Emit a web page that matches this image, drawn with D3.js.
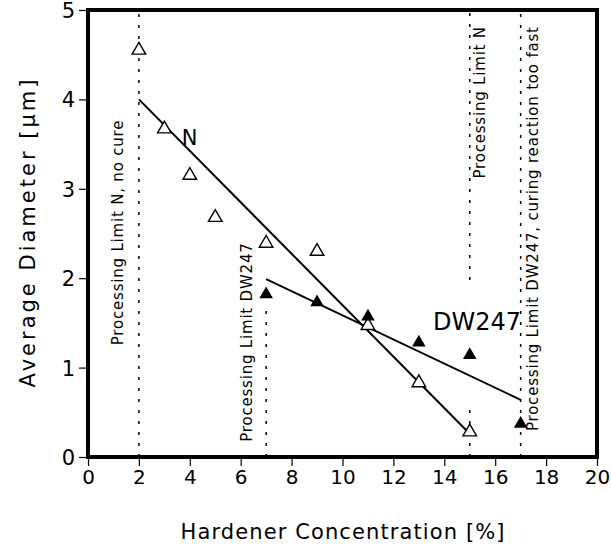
<!DOCTYPE html>
<html>
<head>
<meta charset="utf-8">
<script src="https://cdn.jsdelivr.net/npm/d3@7"></script>
<style>
body { margin: 0; background: #fff; }
text { font-family: "DejaVu Sans", sans-serif; fill: #000; }
</style>
</head>
<body>
<div id="chart"></div>
<script>
let xTicks = [0, 2, 4, 6, 8, 10, 12, 14, 16, 18, 20];
let yTicks = [0, 1, 2, 3, 4, 5];

// N resin (open triangles)
let concN = [2, 3, 4, 5, 7, 9, 11, 13, 15];
let diamN = [4.55, 3.67, 3.15, 2.68, 2.39, 2.30, 1.47, 0.83, 0.28];
// DW247 resin (filled triangles)
let concDW = [7, 9, 11, 13, 15, 17];
let diamDW = [1.82, 1.73, 1.57, 1.28, 1.14, 0.37];

// fit lines, end points
let fitN = [[2, 4.0], [15, 0.26]];
let fitDW = [[7, 1.99], [17, 0.64]];

// dotted processing limits: x, from y, to y
let limitX = [2, 7, 15, 15, 17];
let limitFrom = [0, 0, 0, 1.98, 0];
let limitTo = [5, 1.65, 0.6, 5, 5];

let limitLabels = ["Processing Limit N, no cure", "Processing Limit DW247",
    "Processing Limit N", "Processing Limit DW247, curing reaction too fast"];
let limitLabelX = [2, 7, 15, 17];
let limitLabelY = [1.25, 0.17, 4.82, 0.29];

let width = 611, height = 546;
let margin = {top: 10, right: 14, bottom: 89, left: 88};

let svg = d3.select('#chart')
    .append('svg')
    .attr('width', width)
    .attr('height', height);

let x = d3.scaleLinear()
    .domain([0, 20])
    .range([margin.left, width - margin.right]);
let y = d3.scaleLinear()
    .domain([0, 5])
    .range([height - margin.bottom, margin.top]);

// axes
let xAxis = d3.axisBottom(x).tickValues(xTicks).tickSize(9).tickPadding(4)
    .tickFormat(d3.format('d'));
let gx = svg.append('g')
    .attr('transform', 'translate(0,' + y(0) + ')')
    .call(xAxis);
gx.select('.domain').remove();
gx.selectAll('text').style('font-size', '20px');
gx.selectAll('line').attr('stroke-width', 1.2);

let yAxis = d3.axisLeft(y).tickValues(yTicks).tickSize(9).tickPadding(4)
    .tickFormat(d3.format('d'));
let gy = svg.append('g')
    .attr('transform', 'translate(' + x(0) + ',0)')
    .call(yAxis);
gy.select('.domain').remove();
gy.selectAll('text').style('font-size', '21px').attr('dy', '0.36em');
gy.selectAll('line').attr('stroke-width', 1.2);

// frame
svg.append('rect')
    .attr('x', x(0))
    .attr('y', y(5))
    .attr('width', x(20) - x(0))
    .attr('height', y(0) - y(5))
    .attr('fill', 'none')
    .attr('stroke', '#000')
    .attr('stroke-width', 4);

// dotted limit lines
limitX.forEach(function (d, i) {
    svg.append('line')
        .attr('x1', x(d)).attr('x2', x(d))
        .attr('y1', y(limitFrom[i])).attr('y2', y(limitTo[i]))
        .attr('stroke', '#000')
        .attr('stroke-width', 1.5)
        .attr('stroke-dasharray', '3,8');
});

// limit labels
let labelDx = [-16, -14, 15, 17];
let labelAnchor = ['start', 'start', 'end', 'start'];
limitLabels.forEach(function (t, i) {
    let px = x(limitLabelX[i]) + labelDx[i];
    let py = y(limitLabelY[i]);
    svg.append('text')
        .attr('transform', 'translate(' + px + ',' + py + ') rotate(-90)')
        .attr('text-anchor', labelAnchor[i])
        .style('font-size', '15px')
        .style('letter-spacing', '0.8px')
        .text(t);
});

// fit lines
let line = d3.line().x(d => x(d[0])).y(d => y(d[1]));
[fitN, fitDW].forEach(function (f) {
    svg.append('path')
        .attr('d', line(f))
        .attr('fill', 'none')
        .attr('stroke', '#000')
        .attr('stroke-width', 2);
});

// markers
let tri = d3.symbol().type(d3.symbolTriangle).size(80);
concN.forEach(function (d, i) {
    svg.append('path')
        .attr('d', tri())
        .attr('transform', 'translate(' + x(d) + ',' + y(diamN[i]) + ')')
        .attr('fill', '#fff')
        .attr('stroke', '#000')
        .attr('stroke-width', 1.4);
});
concDW.forEach(function (d, i) {
    svg.append('path')
        .attr('d', tri())
        .attr('transform', 'translate(' + x(d) + ',' + y(diamDW[i]) + ')')
        .attr('fill', '#000');
});

// series labels
svg.append('text')
    .attr('x', x(3.68)).attr('y', y(3.49))
    .style('font-size', '21px')
    .text('N');
svg.append('text')
    .attr('x', x(13.56)).attr('y', y(1.42))
    .style('font-size', '24px')
    .text('DW247');

// axis titles
svg.append('text')
    .attr('x', (x(0) + x(20)) / 2)
    .attr('y', 539)
    .attr('text-anchor', 'middle')
    .attr('textLength', 324)
    .attr('lengthAdjust', 'spacing')
    .style('font-size', '21px')
    .text('Hardener Concentration [%]');
svg.append('text')
    .attr('transform', 'translate(35,' + (y(0) + y(5)) / 2 + ') rotate(-90)')
    .attr('text-anchor', 'middle')
    .attr('textLength', 308)
    .attr('lengthAdjust', 'spacing')
    .style('font-size', '21px')
    .text('Average Diameter [μm]');
</script>
</body>
</html>
